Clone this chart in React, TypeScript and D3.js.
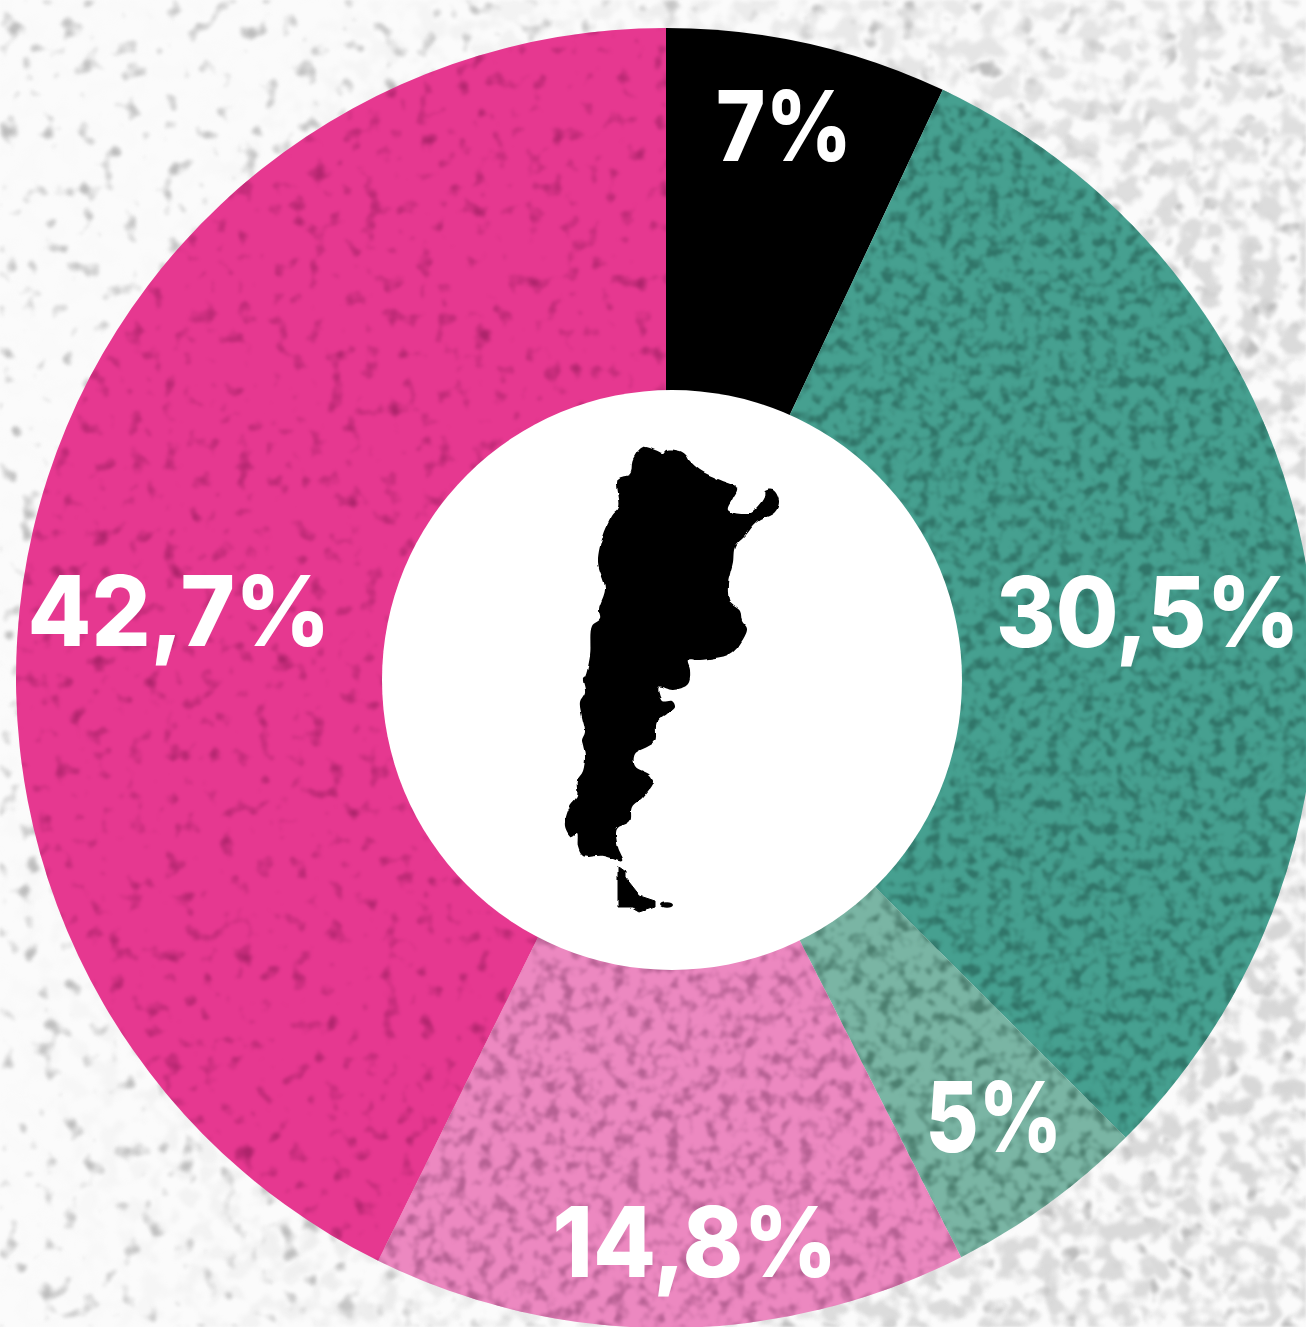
import React from "react";
import * as d3 from "d3";

const W = 1306;
const H = 1327;

const labels = ["7%", "30,5%", "5%", "14,8%", "42,7%"];
const shares = [7, 30.5, 5, 14.8, 42.7];
const colors = ["#000000", "#46a090", "#7ab5a4", "#ec88c0", "#e63890"];
const grains = ["", "grainTeal", "grainPale", "grainPale2", "grainPink"];
const labelX = [784, 1148, 994, 695, 179];
const labelY = [125, 611, 1116, 1241, 610];
const labelW = [136, 304, 137, 285, 303];

const mainland: [number, number][] = [
  [643, 448], [655, 451], [663, 454], [666, 451], [680, 452], [686, 456], [690, 462], [700, 471], [718, 480], [737, 489],
  [733, 499], [728, 511], [743, 515], [751, 513], [757, 508], [764, 498], [765, 492], [773, 491], [779, 502], [775, 513],
  [757, 523], [746, 536], [735, 548], [733, 563], [730, 575], [728, 585], [730, 603], [740, 612], [742, 622], [747, 630],
  [740, 645], [730, 655], [700, 661], [688, 661], [690, 670], [688, 685], [673, 691], [659, 688], [662, 702], [672, 702],
  [675, 708], [667, 715], [657, 723], [655, 742], [647, 748], [635, 755], [635, 767], [650, 776], [653, 783], [643, 798],
  [632, 808], [630, 822], [617, 830], [618, 848], [623, 862], [603, 857], [583, 857], [578, 848], [577, 835], [572, 838],
  [565, 827], [570, 807], [577, 797], [577, 782], [583, 772], [585, 757], [583, 746], [582, 741], [585, 733], [582, 718],
  [580, 703], [585, 693], [583, 680], [585, 678], [590, 657], [592, 627], [600, 620], [599, 610], [605, 590], [598, 563],
  [603, 537], [612, 517], [619, 508], [618, 480], [630, 475], [633, 460],
];
const fuego: [number, number][] = [
  [618, 867], [625, 872], [625, 878], [640, 897], [655, 902], [655, 907], [640, 912], [633, 908], [618, 908],
];

const CX = 666;
const CY = 678;
const R = 650;

function Grain(props: { id: string; freq: number; seed: number; rgb: string; k: number; t: number; blur?: number }) {
  const { id, freq, seed, rgb, k, t, blur } = props;
  const [r, g, b] = rgb.split(" ");
  return (
    <filter id={id} x="0" y="0" width="1" height="1" colorInterpolationFilters="sRGB">
      <feTurbulence type="fractalNoise" baseFrequency={freq} numOctaves={2} seed={seed} />
      <feColorMatrix type="matrix" values={`0 0 0 0 ${r} 0 0 0 0 ${g} 0 0 0 0 ${b} ${k} 0 0 0 ${-t}`} />
      {blur ? <feGaussianBlur stdDeviation={blur} /> : null}
    </filter>
  );
}

export default function App() {
  const pie = d3.pie<number>().sort(null).value((d) => d);
  const arc = d3.arc<d3.PieArcDatum<number>>().innerRadius(0).outerRadius(R);
  const slices = pie(shares);
  const outline = d3.line().curve(d3.curveCatmullRomClosed.alpha(0.5));

  return (
    <svg width={W} height={H} viewBox={`0 0 ${W} ${H}`} style={{ position: "absolute", left: 0, top: 0, display: "block" }}>
      <defs>
        <Grain id="bgSparse" freq={0.05} seed={3} rgb="0.74 0.74 0.74" k={5} t={3.05} blur={1.4} />
        <Grain id="bgDense" freq={0.05} seed={11} rgb="0.84 0.84 0.84" k={5} t={2.2} blur={1.4} />
        <Grain id="grainTeal" freq={0.085} seed={5} rgb="0.19 0.46 0.41" k={3.5} t={1.6} blur={0.8} />
        <Grain id="grainPale" freq={0.075} seed={7} rgb="0.30 0.50 0.44" k={3.5} t={1.65} blur={0.8} />
        <Grain id="grainPale2" freq={0.075} seed={9} rgb="0.72 0.38 0.58" k={3.5} t={1.65} blur={0.8} />
        <Grain id="grainPink" freq={0.055} seed={13} rgb="0.68 0.14 0.42" k={3.5} t={2.05} blur={1.2} />
        <filter id="rough" x="-5%" y="-5%" width="110%" height="110%">
          <feTurbulence type="fractalNoise" baseFrequency={0.12} numOctaves={1} seed={21} result="n" />
          <feDisplacementMap in="SourceGraphic" in2="n" scale={4} xChannelSelector="R" yChannelSelector="G" />
          <feGaussianBlur stdDeviation={0.7} />
        </filter>
        <radialGradient id="denseFade" gradientUnits="userSpaceOnUse" cx={1300} cy={850} r={1300}>
          <stop offset="0" stopColor="#fff" stopOpacity={1} />
          <stop offset="0.5" stopColor="#fff" stopOpacity={0.85} />
          <stop offset="1" stopColor="#fff" stopOpacity={0.03} />
        </radialGradient>
        <mask id="denseMask" maskUnits="userSpaceOnUse" x={0} y={0} width={W} height={H}>
          <rect width={W} height={H} fill="url(#denseFade)" />
        </mask>
        {slices.map((s, i) => (
          <clipPath key={labels[i]} id={`slice${i}`}>
            <path d={arc(s) ?? ""} transform={`translate(${CX},${CY})`} />
          </clipPath>
        ))}
      </defs>

      <rect width={W} height={H} fill="#fbfbfb" />
      <rect width={W} height={H} filter="url(#bgSparse)" />
      <g mask="url(#denseMask)">
        <rect width={W} height={H} filter="url(#bgDense)" />
      </g>

      <g transform={`translate(${CX},${CY})`}>
        {slices.map((s, i) => (
          <path key={labels[i]} d={arc(s) ?? ""} fill={colors[i]} />
        ))}
      </g>
      {slices.map((s, i) =>
        grains[i] ? (
          <g key={labels[i]} clipPath={`url(#slice${i})`}>
            <rect width={W} height={H} filter={`url(#${grains[i]})`} />
          </g>
        ) : null
      )}

      <circle cx={672} cy={680} r={290} fill="#ffffff" />

      <g filter="url(#rough)" transform="translate(0,-1)">
        <path d={outline(mainland) ?? ""} fill="#000" />
        <path d={d3.line()(fuego) + "Z"} fill="#000" stroke="#000" strokeWidth={1} strokeLinejoin="round" />
        <ellipse cx={667} cy={906} rx={6} ry={2.8} fill="#000" />
      </g>

      {labels.map((t, i) => (
        <text
          key={t}
          x={labelX[i]}
          y={labelY[i]}
          textAnchor="middle"
          dominantBaseline="central"
          textLength={labelW[i]}
          lengthAdjust="spacingAndGlyphs"
          fill="#fff"
          style={{ fontFamily: "Inter, 'Open Sans', sans-serif", fontWeight: 800, fontSize: 97 }}
        >
          {t}
        </text>
      ))}
    </svg>
  );
}
